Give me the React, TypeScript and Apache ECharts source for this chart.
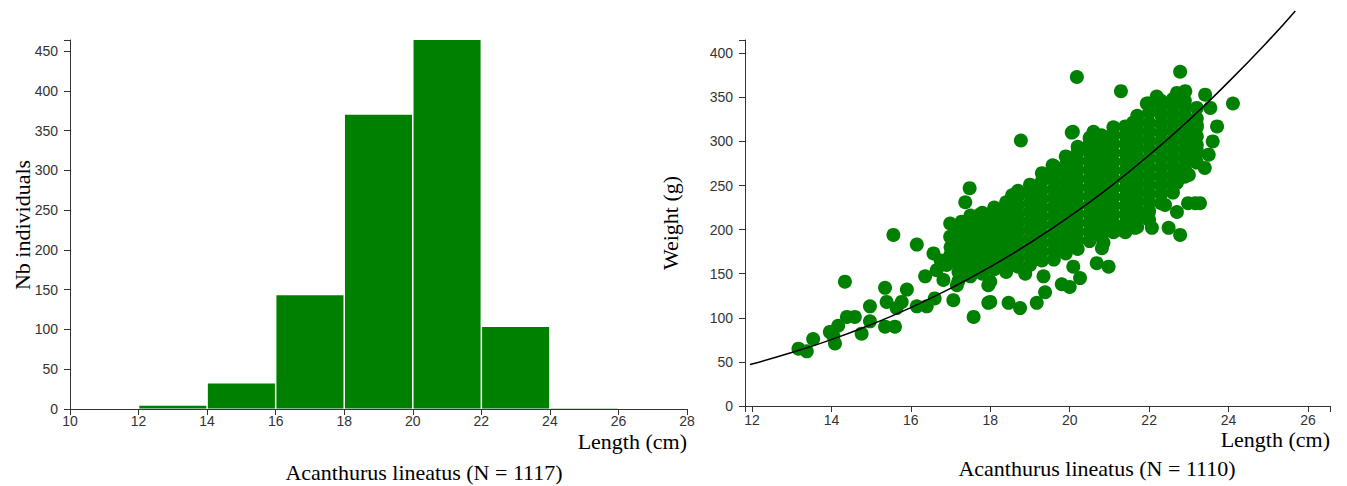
import React, { useEffect, useRef } from "react";
import * as echarts from "echarts";

// ---------- Histogram data (left) ----------
const histBinStart = [12, 14, 16, 18, 20, 22, 24];
const histBinEnd = [14, 16, 18, 20, 22, 24, 26];
const histCounts = [4, 32, 143, 370, 464, 103, 1];
const histXTicks = [10, 12, 14, 16, 18, 20, 22, 24, 26, 28];
const histYTicks = [0, 50, 100, 150, 200, 250, 300, 350, 400, 450];

// ---------- Length-weight data (right) ----------
const lwXTicks = [12, 14, 16, 18, 20, 22, 24, 26];
const lwYTicks = [0, 50, 100, 150, 200, 250, 300, 350, 400];

// isolated / edge points: [length cm, weight g]
const sparsePoints: [number, number][] = [
  [13.17, 65], [13.38, 62], [13.54, 76], [13.96, 84], [14.09, 71], [14.05, 79], [14.17, 91],
  [14.34, 141], [14.39, 101], [14.59, 101], [14.76, 82], [14.97, 113], [14.97, 96], [15.35, 90],
  [15.35, 134], [15.39, 118], [15.6, 90], [15.56, 194], [15.64, 111], [15.77, 118], [15.9, 132],
  [16.15, 183], [16.15, 113], [16.36, 147], [16.4, 113], [16.57, 173], [16.6, 122], [16.65, 154],
  [16.82, 143], [16.99, 171], [16.99, 192], [16.99, 207], [17.07, 120], [17.16, 137], [17.28, 209],
  [17.37, 231], [17.48, 247], [17.58, 101], [17.49, 188], [17.74, 217], [17.74, 154], [17.95, 117],
  [17.95, 137], [18.04, 207],
  [18.77, 301], [19.57, 273], [20.05, 310], [20.98, 305], [18.58, 239], [18.0, 141], [18.0, 118],
  [18.46, 117], [18.75, 111], [19.17, 117], [19.38, 129], [19.34, 147], [18.88, 150], [19.8, 138],
  [20.09, 158], [20.26, 145], [20.68, 162], [20.98, 158], [20.81, 179], [20.0, 135],
  [22.78, 379], [21.29, 357], [22.19, 351], [22.7, 355], [22.91, 357], [23.41, 353], [24.11, 343],
  [23.54, 338], [21.98, 343], [23.71, 317], [21.6, 321], [23.2, 319], [23.16, 230], [23.28, 230],
  [22.98, 230], [22.7, 220], [22.4, 228], [22.49, 202], [22.78, 194], [22.7, 253], [22.86, 266],
  [23.2, 290], [21.98, 217], [22.07, 202], [21.65, 202], [21.27, 200], [20.85, 185],
  [20.18, 373], [20.08, 311], [20.6, 311], [21.59, 321], [21.94, 343], [18.55, 239], [23.6, 300],
  [23.5, 285], [23.4, 270], [23.0, 262], [16.9, 160], [17.0, 180], [16.75, 165],
];

// dense central cloud, read column by column
const clusterLengths = [
  17.2, 17.5, 17.8, 18.1, 18.4, 18.7, 19.0, 19.3, 19.6, 19.9, 20.2,
  20.5, 20.8, 21.1, 21.4, 21.7, 22.0, 22.3, 22.6, 22.9, 23.2,
];
const clusterWeights = [
  [142, 152, 162, 172, 182, 192, 201],
  [147, 157, 167, 177, 187, 197, 207, 216],
  [150, 160, 170, 180, 190, 200, 210, 219],
  [155, 165, 175, 185, 195, 205, 215, 225],
  [152, 162, 172, 182, 192, 202, 212, 222, 231],
  [158, 168, 178, 188, 198, 208, 218, 228, 238, 244],
  [160, 170, 180, 190, 200, 210, 220, 230, 240, 251],
  [165, 175, 185, 195, 205, 215, 225, 235, 245, 255, 264],
  [166, 176, 186, 196, 206, 216, 226, 236, 246, 256, 266, 272],
  [173, 183, 193, 203, 213, 223, 233, 243, 253, 263, 273, 283],
  [178, 188, 198, 208, 218, 228, 238, 248, 258, 268, 278, 288, 294],
  [187, 197, 207, 217, 227, 237, 247, 257, 267, 277, 287, 297, 304],
  [192, 202, 212, 222, 232, 242, 252, 262, 272, 282, 292, 302, 307],
  [197, 207, 217, 227, 237, 247, 257, 267, 277, 287, 297, 307, 316],
  [197, 207, 217, 227, 237, 247, 257, 267, 277, 287, 297, 307, 317],
  [203, 213, 223, 233, 243, 253, 263, 273, 283, 293, 303, 313, 323, 329],
  [211, 221, 231, 241, 251, 261, 271, 281, 291, 301, 311, 321, 333],
  [230, 240, 250, 260, 270, 280, 290, 300, 310, 320, 330, 340, 346],
  [242, 252, 262, 272, 282, 292, 302, 312, 322, 332, 342, 348],
  [260, 270, 280, 290, 300, 310, 320, 330, 340, 346],
  [276, 286, 296, 306, 316, 326, 338],
];

// fitted length-weight curve
const curveLength = [11.95, 13, 14, 15, 16, 17, 18, 19, 20, 21, 22, 23, 24, 25, 25.68];
const curveWeight = [47, 60.6, 75.3, 92.3, 111.6, 133.3, 157.7, 185, 215, 248, 284.5, 324, 367.5, 414, 448];

const GREEN = "#008000";
const AXIS_COLOR = "#333";
const TICK_FONT = '"Liberation Sans", Arial, sans-serif';
const TITLE_FONT = '22px "Liberation Serif", "Times New Roman", serif';

export default function App() {
  const ref = useRef<HTMLDivElement>(null);

  useEffect(() => {
    if (!ref.current) return;
    const chart = echarts.init(ref.current, null, { renderer: "svg" });

    const histData = histBinStart.map((s, i) => [s, histBinEnd[i], histCounts[i]]);
    const scatterData: [number, number][] = [...sparsePoints];
    clusterLengths.forEach((len, i) => {
      clusterWeights[i].forEach((w) => scatterData.push([len, w]));
    });
    const curveData = curveLength.map((l, i) => [l, curveWeight[i]]);

    const lwXMin = 11.824;
    const lwXMax = 26.554;
    const lwYMax = 415;

    const axisLine = { show: true, onZero: false, lineStyle: { color: AXIS_COLOR, width: 1 } };
    const labelBase = { fontSize: 14, color: "#333", fontFamily: TICK_FONT };

    chart.setOption({
      animation: false,
      grid: [
        { left: 70, top: 40, width: 617, height: 369 },
        { left: 745, top: 40, width: 585, height: 366 },
      ],
      xAxis: [
        {
          type: "value", gridIndex: 0, min: 10, max: 28, interval: 2,
          splitLine: { show: false }, axisLine,
          axisTick: { show: true, length: 6, lineStyle: { color: AXIS_COLOR }, customValues: histXTicks },
          axisLabel: { ...labelBase, margin: 5, customValues: histXTicks },
        },
        {
          type: "value", gridIndex: 1, min: lwXMin, max: lwXMax,
          splitLine: { show: false }, axisLine,
          axisTick: { show: true, length: 6, lineStyle: { color: AXIS_COLOR }, customValues: [lwXMin, ...lwXTicks, lwXMax] },
          axisLabel: { ...labelBase, margin: 7, customValues: lwXTicks },
        },
      ],
      yAxis: [
        {
          type: "value", gridIndex: 0, min: 0, max: 464,
          splitLine: { show: false }, axisLine,
          axisTick: { show: true, length: 6, lineStyle: { color: AXIS_COLOR }, customValues: [...histYTicks, 464] },
          axisLabel: { ...labelBase, margin: 12, customValues: histYTicks },
        },
        {
          type: "value", gridIndex: 1, min: 0, max: lwYMax,
          splitLine: { show: false }, axisLine,
          axisTick: { show: true, length: 6, lineStyle: { color: AXIS_COLOR }, customValues: [...lwYTicks, lwYMax] },
          axisLabel: { ...labelBase, margin: 12, customValues: lwYTicks },
        },
      ],
      series: [
        {
          type: "custom", xAxisIndex: 0, yAxisIndex: 0,
          encode: { x: [0, 1], y: 2 },
          data: histData,
          renderItem: (params: any, api: any) => {
            const p0 = api.coord([api.value(0), api.value(2)]);
            const p1 = api.coord([api.value(1), 0]);
            return {
              type: "rect",
              shape: { x: p0[0] + 0.75, y: p0[1], width: p1[0] - p0[0] - 1.5, height: Math.max(0, p1[1] - p0[1] - 0.5) },
              style: { fill: GREEN },
            };
          },
        },
        {
          type: "scatter", xAxisIndex: 1, yAxisIndex: 1,
          data: scatterData, symbolSize: 14,
          itemStyle: { color: GREEN, opacity: 1 },
        },
        {
          type: "line", xAxisIndex: 1, yAxisIndex: 1,
          data: curveData, smooth: true, showSymbol: false, clip: false, z: 5,
          lineStyle: { color: "#000", width: 1.5 },
        },
      ],
      graphic: [
        { type: "text", x: 22, y: 225, rotation: Math.PI / 2,
          style: { text: "Nb individuals", font: TITLE_FONT, fill: "#000", textAlign: "center", textVerticalAlign: "middle" } },
        { type: "text", x: 687, y: 441,
          style: { text: "Length (cm)", font: TITLE_FONT, fill: "#000", textAlign: "right", textVerticalAlign: "middle" } },
        { type: "text", x: 424, y: 472,
          style: { text: "Acanthurus lineatus (N = 1117)", font: TITLE_FONT, fill: "#000", textAlign: "center", textVerticalAlign: "middle" } },
        { type: "text", x: 670, y: 223, rotation: Math.PI / 2,
          style: { text: "Weight (g)", font: TITLE_FONT, fill: "#000", textAlign: "center", textVerticalAlign: "middle" } },
        { type: "text", x: 1330, y: 439,
          style: { text: "Length (cm)", font: TITLE_FONT, fill: "#000", textAlign: "right", textVerticalAlign: "middle" } },
        { type: "text", x: 1097, y: 468,
          style: { text: "Acanthurus lineatus (N = 1110)", font: TITLE_FONT, fill: "#000", textAlign: "center", textVerticalAlign: "middle" } },
      ],
    });

    return () => chart.dispose();
  }, []);

  return (
    <div
      ref={ref}
      style={{ position: "absolute", left: 0, top: 0, width: 1347, height: 486, background: "#fff" }}
    />
  );
}
